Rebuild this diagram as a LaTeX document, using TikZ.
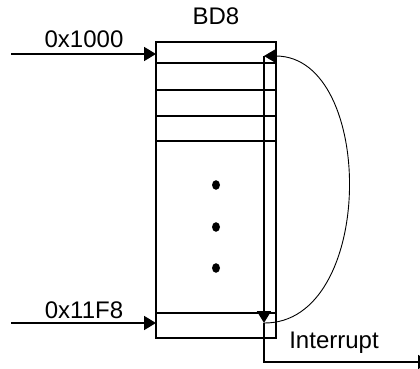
\documentclass[tikz,border=0pt]{standalone}
\usepackage{fontspec}
\setmainfont{Liberation Sans}
\usetikzlibrary{arrows.meta}
\begin{document}
\begin{tikzpicture}[x=1pt,y=-1pt,
  lbl/.style={font=\fontsize{24}{28}\selectfont, inner sep=0pt, anchor=base},
  thick line/.style={line width=1.8pt},
  tri/.style={-{Triangle[length=12pt,width=14pt]}},
  dotmark/.style={fill=black}]
\useasboundingbox (0,0) rectangle (420,369);
\clip (0,0) rectangle (420,369);
% box
\node[draw, thick line, minimum width=120pt, minimum height=296pt, inner sep=0pt] (box) at (216,190) {};
\foreach \yy in {63,90,116,141,313}
  \draw[thick line] (156,\yy) -- (276,\yy);
% dots
\foreach \yy in {185,227,268}
  \fill[dotmark] (216,\yy) ellipse [x radius=4pt, y radius=4.8pt];
% labels
\node[lbl] (bd) at (216,25) {BD8};
\node[lbl] (a1) at (84,48) {0x1000};
\node[lbl] (a2) at (84,318) {0x11F8};
\node[lbl] (intr) at (334,348) {Interrupt};
% coordinates
\coordinate (s1) at (11,54);
\coordinate (e1) at (156,54);
\coordinate (s2) at (11,323);
\coordinate (e2) at (156,323);
\coordinate (top) at (264,56);
\coordinate (bot) at (264,323);
\coordinate (corner) at (264,362);
\coordinate (out) at (430,362);
% connectors
\draw[thick line, tri] (s1) -- (e1);
\draw[thick line, tri] (s2) -- (e2);
\draw[thick line, tri] (top) -- (bot);
\draw[thick line, tri] (bot) -- (corner) -- (out);
\draw[line width=0.9pt, tri] (bot) .. controls (376,324) and (376,56) .. (top);
\end{tikzpicture}
\end{document}
